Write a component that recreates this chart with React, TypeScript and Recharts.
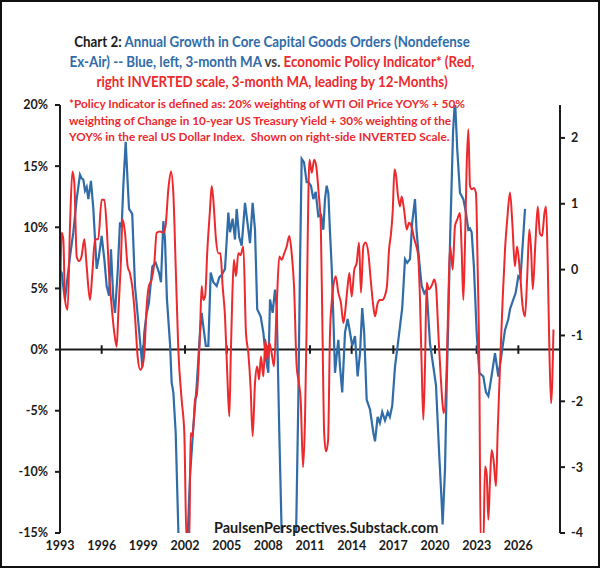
import { LineChart, Line, XAxis, YAxis, ReferenceLine } from "recharts";

// Core capital goods orders, annual growth %, 3-month MA (left axis)
const blueYears = [
  1993.0, 1993.12, 1993.25, 1993.36, 1993.5, 1993.72, 1993.96, 1994.2, 1994.44, 1994.56,
  1994.68, 1994.8, 1994.92, 1995.04, 1995.23, 1995.4, 1995.64, 1995.8, 1996.0, 1996.19,
  1996.36, 1996.53, 1996.67, 1996.84, 1996.96, 1997.15, 1997.32, 1997.44, 1997.56, 1997.73,
  1997.87, 1997.97, 1998.2, 1998.4, 1998.69, 1998.93, 1999.07, 1999.24, 1999.4, 1999.65,
  1999.89, 2000.13, 2000.27, 2000.44, 2000.56, 2000.7, 2000.92, 2001.04, 2001.16, 2001.33,
  2001.52, 2001.75, 2002.0, 2002.2, 2002.36, 2002.6, 2002.84, 2003.08, 2003.2, 2003.32,
  2003.5, 2003.68, 2003.85, 2004.04, 2004.28, 2004.47, 2004.64, 2004.88, 2005.12, 2005.24,
  2005.43, 2005.6, 2005.72, 2005.9, 2006.08, 2006.32, 2006.56, 2006.68, 2006.87, 2007.04,
  2007.2, 2007.45, 2007.64, 2007.83, 2008.0, 2008.12, 2008.31, 2008.48, 2008.6, 2008.79,
  2008.96, 2009.3, 2009.7, 2010.0, 2010.16, 2010.28, 2010.4, 2010.57, 2010.76, 2010.88,
  2011.07, 2011.24, 2011.41, 2011.6, 2011.8, 2011.96, 2012.08, 2012.2, 2012.32, 2012.44,
  2012.56, 2012.68, 2012.8, 2012.92, 2013.04, 2013.16, 2013.32, 2013.52, 2013.71, 2013.88,
  2014.04, 2014.24, 2014.43, 2014.6, 2014.76, 2014.9, 2015.08, 2015.32, 2015.56, 2015.68,
  2015.87, 2016.03, 2016.2, 2016.4, 2016.6, 2016.75, 2016.92, 2017.12, 2017.31, 2017.48,
  2017.64, 2017.84, 2018.0, 2018.2, 2018.36, 2018.56, 2018.68, 2018.85, 2019.04, 2019.23,
  2019.4, 2019.64, 2019.88, 2020.07, 2020.3, 2020.48, 2020.55, 2020.72, 2020.84, 2020.96,
  2021.1, 2021.3, 2021.44, 2021.6, 2021.8, 2022.04, 2022.23, 2022.4, 2022.52, 2022.64,
  2022.8, 2023.0, 2023.19, 2023.48, 2023.67, 2023.84, 2024.0, 2024.32, 2024.56, 2024.8,
  2025.04, 2025.28, 2025.4, 2025.64, 2025.8, 2026.0, 2026.15, 2026.31, 2026.48,
];
const blueValues = [
  6.5, 6.3, 5.0, 4.1, 5.5, 7.6, 9.6, 12.3, 14.3, 14.0,
  13.9, 13.0, 13.3, 12.3, 13.8, 11.5, 6.6, 7.6, 9.3, 7.4,
  5.2, 4.4, 8.2, 4.1, 3.0, 6.3, 10.4, 10.0, 13.4, 17.0,
  13.7, 11.5, 11.1, 5.2, 1.6, -1.4, 1.4, 3.0, 3.8, 6.8,
  7.1, 6.3, 5.5, 10.5, 9.0, 4.1, 0.5, -2.7, -3.5, -6.8,
  -14.8, -19, -18, -15, -10.4, -6.3, -3.0, 1.4, 3.0, 1.9,
  0.3, 0.3, 6.3, 5.5, 5.2, 5.9, 6.1, 6.6, 11.2, 9.6,
  10.7, 9.0, 11.5, 9.2, 8.5, 12.0, 9.8, 8.7, 12.0, 9.8,
  3.3, 2.7, 1.4, -0.8, -1.9, 4.1, 3.0, 4.9, 3.6, -6.8,
  -15, -24, -22, -15, -4.1, 6.8, 15.6, 15.3, 13.7, 13.7,
  13.4, 12.3, 12.9, 10.9, 11.0, 9.8, 12.3, 13.4, 12.8, 9.6,
  6.8, 2.7, -1.9, -0.5, 0.8, -1.4, -3.5, 1.4, 2.5, 1.4,
  0.3, 1.1, -2.2, -0.3, 3.4, 1.4, -4.1, -4.9, -6.8, -7.5,
  -5.5, -6.0, -5.1, -5.8, -5.1, -5.5, -4.6, -1.4, 0.3, 1.9,
  3.4, 7.4, 7.1, 7.4, 10.4, 12.3, 9.6, 7.4, 5.2, 4.6,
  4.9, 0.5, -1.4, -2.9, -8.5, -12.5, -14.3, -9.8, -3.0, 2.5,
  9.6, 17.8, 20.5, 16.4, 12.8, 12.3, 11.2, 9.8, 9.9, 9.6,
  6.8, 1.4, -1.9, -2.2, -3.5, -3.8, -2.7, -0.3, -2.2, -0.3,
  1.6, 2.5, 3.3, 4.1, 4.6, 6.0, 5.8, 8.5, 11.5,
];

// Economic Policy Indicator, 3-month MA, leading by 12 months (right axis)
const redYears = [
  1993.0, 1993.12, 1993.24, 1993.36, 1993.55, 1993.72, 1993.89, 1994.03, 1994.2, 1994.37,
  1994.55, 1994.75, 1994.92, 1995.16, 1995.33, 1995.52, 1995.75, 1996.0, 1996.19, 1996.36,
  1996.53, 1996.72, 1996.91, 1997.08, 1997.2, 1997.37, 1997.51, 1997.68, 1997.87, 1998.03,
  1998.2, 1998.4, 1998.59, 1998.78, 1998.93, 1999.07, 1999.24, 1999.4, 1999.6, 1999.79,
  1999.96, 2000.2, 2000.44, 2000.6, 2000.8, 2000.99, 2001.16, 2001.33, 2001.52, 2001.76,
  2001.95, 2002.12, 2002.31, 2002.4, 2002.55, 2002.72, 2002.85, 2002.96, 2003.08, 2003.2,
  2003.32, 2003.45, 2003.61, 2003.8, 2003.92, 2004.04, 2004.23, 2004.4, 2004.55, 2004.71,
  2004.88, 2005.04, 2005.19, 2005.29, 2005.4, 2005.52, 2005.67, 2005.84, 2006.0, 2006.2,
  2006.39, 2006.56, 2006.73, 2006.87, 2007.04, 2007.2, 2007.33, 2007.47, 2007.64, 2007.79,
  2007.93, 2008.07, 2008.24, 2008.41, 2008.6, 2008.79, 2008.96, 2009.15, 2009.32, 2009.51,
  2009.68, 2009.85, 2010.04, 2010.2, 2010.33, 2010.5, 2010.64, 2010.75, 2010.84, 2010.96,
  2011.13, 2011.3, 2011.45, 2011.62, 2011.78, 2011.9, 2012.02, 2012.15, 2012.3, 2012.44,
  2012.56, 2012.68, 2012.85, 2013.04, 2013.23, 2013.4, 2013.52, 2013.71, 2013.84, 2014.0,
  2014.19, 2014.36, 2014.53, 2014.67, 2014.84, 2015.0, 2015.2, 2015.37, 2015.56, 2015.68,
  2015.87, 2016.03, 2016.2, 2016.37, 2016.54, 2016.69, 2016.84, 2016.96, 2017.08, 2017.2,
  2017.31, 2017.48, 2017.6, 2017.78, 2017.96, 2018.13, 2018.3, 2018.51, 2018.65, 2018.79,
  2018.92, 2019.04, 2019.16, 2019.28, 2019.4, 2019.55, 2019.75, 2019.95, 2020.07, 2020.24,
  2020.41, 2020.64, 2020.84, 2020.96, 2021.08, 2021.18, 2021.27, 2021.44, 2021.6, 2021.8,
  2021.92, 2022.04, 2022.15, 2022.28, 2022.4, 2022.52, 2022.65, 2022.8, 2022.95, 2023.07,
  2023.19, 2023.29, 2023.48, 2023.6, 2023.72, 2023.84, 2023.96, 2024.08, 2024.22, 2024.39,
  2024.51, 2024.68, 2024.87, 2025.04, 2025.2, 2025.4, 2025.58, 2025.75, 2025.91, 2026.12,
  2026.31, 2026.48, 2026.64, 2026.79, 2026.92, 2027.04, 2027.23, 2027.4, 2027.55, 2027.71,
  2027.88, 2028.0, 2028.12, 2028.24, 2028.36, 2028.53,
];
const redValues = [
  -0.76, 0.56, 0.46, -0.46, -0.61, 0.66, 1.49, 1.32, 0.2, 0.13,
  0.2, 0.46, 0.05, -0.46, -0.05, 0.46, 0.46, 1.06, 1.06, 0.66,
  -0.05, -0.56, -0.96, -1.17, -0.66, 0.05, 0.76, 0.56, 0.05, -0.05,
  -0.25, -0.71, -1.32, -1.52, -1.47, -1.27, -0.56, -0.25, -0.15, 0.1,
  0.56, 0.58, 0.56, 0.66, 1.22, 1.49, 1.16, 0.05, -1.22, -1.98,
  -2.48, -4.2, -4.2, -2.48, -2.53, -1.98, -1.9, -1.57, -0.96, -0.25,
  -0.46, -0.4, 0.3, 0.91, 1.27, 1.06, 0.46, 0.25, 0.25, -0.25,
  -0.71, -1.57, -2.23, -1.37, -0.46, 0.15, -0.1, 0.25, 0.22, 0.35,
  -0.96, -1.27, -1.82, -2.53, -1.72, -1.47, -1.67, -1.32, -1.62, -1.06,
  -1.37, -1.11, -1.27, -1.47, -0.56, 0.2, 0.15, 0.25, 0.35, 0.51,
  0.25, -0.25, -1.47, -1.72, -1.98, -3.0, -2.28, -0.96, 0.56, 1.67,
  1.47, 1.67, 1.57, 1.17, 0.66, -0.96, -2.48, -2.76, -2.6, -0.96,
  -0.5, -0.25, -0.1, -0.35, -0.51, -0.81, -0.66, -0.25, -0.05, -0.41,
  0.0, 0.1, 0.41, -0.35, 0.35, 0.41, 0.25, -0.15, -0.56, -0.71,
  -0.51, -0.46, -0.46, -0.41, -0.25, 0.3, 0.56, 0.91, 1.52, 1.42,
  1.17, 0.96, 1.11, 0.9, 0.61, 0.71, 0.66, 0.46, 0.36, 0.2,
  -0.46, -1.47, -2.28, -1.47, -0.2, -0.3, -0.25, -0.15, -0.25, -0.96,
  -1.62, -2.18, -1.47, -0.46, 0.35, 0.2, 0.0, 0.66, 0.76, 0.86,
  0.3, -0.46, 0.3, 1.57, 2.13, 1.27, 1.22, 1.24, 1.16, 0.05,
  -1.47, -4.2, -4.2, -2.99, -3.1, -3.8, -3.2, -2.74, -2.9, -3.29,
  -2.48, -1.47, -0.46, 0.3, 0.76, 1.17, 0.66, 0.05, 0.35, -0.05,
  -0.56, -0.71, -0.1, 0.61, 0.3, -0.3, 0.41, 0.96, 0.55, 0.51,
  0.86, 0.96, 0.05, -1.27, -2.03, -0.91,
];

const yearTicks = [1993, 1996, 1999, 2002, 2005, 2008, 2011, 2014, 2017, 2020, 2023, 2026];
const leftTicks = [-15, -10, -5, 0, 5, 10, 15, 20];
const rightTicks = [-4, -3, -2, -1, 0, 1, 2];

const blueData = blueYears.map((t, i) => ({ t, v: blueValues[i] }));
const redData = redYears.map((t, i) => ({ t, v: redValues[i] }));

const BLUE = "#2f6ca8";
const RED = "#ec2a2e";
const INK = "#1b1b1b";
const FONT = "Lato, 'Noto Sans', sans-serif";

const tickStyle = { fill: INK, fontSize: 12.5, fontWeight: 700, fontFamily: FONT };

export default function App() {
  return (
    <div
      style={{
        position: "absolute",
        left: 0,
        top: 0,
        width: 600,
        height: 568,
        background: "#fff",
        fontFamily: FONT,
      }}
    >
      <LineChart
        width={600}
        height={568}
        margin={{ top: 105, right: 0, bottom: 5, left: 10 }}
      >
        <XAxis
          dataKey="t"
          type="number"
          domain={[1993, 2029]}
          ticks={yearTicks}
          allowDataOverflow
          axisLine={false}
          tickLine={false}
          height={30}
          tick={tickStyle}
        />
        <YAxis
          yAxisId="left"
          width={50}
          domain={[-15, 20]}
          ticks={leftTicks}
          allowDataOverflow
          tickFormatter={(v) => `${v}%`}
          axisLine={{ stroke: INK, strokeWidth: 2 }}
          tickLine={{ stroke: INK, strokeWidth: 2 }}
          tickSize={5}
          tickMargin={7}
          tick={tickStyle}
        />
        <YAxis
          yAxisId="right"
          orientation="right"
          width={40}
          domain={[-4, 2.5]}
          ticks={rightTicks}
          allowDataOverflow
          axisLine={{ stroke: INK, strokeWidth: 2 }}
          tickLine={{ stroke: INK, strokeWidth: 2 }}
          tickSize={5}
          tickMargin={6}
          tick={tickStyle}
        />
        <ReferenceLine yAxisId="left" y={0} stroke={INK} strokeWidth={2} />
        {yearTicks.slice(1).map((t) => (
          <ReferenceLine
            key={t}
            yAxisId="left"
            segment={[
              { x: t, y: -0.35 },
              { x: t, y: 0.35 },
            ]}
            stroke={INK}
            strokeWidth={2}
          />
        ))}
        <Line
          yAxisId="left"
          data={blueData}
          dataKey="v"
          type="linear"
          stroke={BLUE}
          strokeWidth={2.2}
          dot={false}
          isAnimationActive={false}
        />
        <Line
          yAxisId="right"
          data={redData}
          dataKey="v"
          type="monotone"
          stroke={RED}
          strokeWidth={2}
          dot={false}
          isAnimationActive={false}
        />
      </LineChart>

      {/* title, narrowed to the look of the original Calibri text */}
      <div
        style={{
          position: "absolute",
          left: 0,
          top: 31,
          width: 544,
          textAlign: "center",
          fontSize: 15.5,
          fontWeight: 700,
          lineHeight: "20px",
          color: BLUE,
          transform: "scaleX(0.86)",
          transformOrigin: "272px 0",
        }}
      >
        <span style={{ color: INK }}>Chart 2: </span>
        Annual Growth in Core Capital Goods Orders (Nondefense
        <br />
        Ex-Air) -- Blue, left, 3-month MA <span style={{ color: "#444" }}>vs. </span>
        <span style={{ color: RED }}>Economic Policy Indicator* (Red,</span>
        <br />
        <span style={{ color: RED }}>right INVERTED scale, 3-month MA, leading by 12-Months)</span>
      </div>

      <div
        style={{
          position: "absolute",
          left: 69,
          top: 96,
          fontSize: 11.8,
          fontWeight: 700,
          lineHeight: "16.5px",
          color: RED,
          whiteSpace: "pre",
        }}
      >
        {"*Policy Indicator is defined as: 20% weighting of WTI Oil Price YOY% + 50%\n" +
          "weighting of Change in 10-year US Treasury Yield + 30% weighting of the\n" +
          "YOY% in the real US Dollar Index.  Shown on right-side INVERTED Scale."}
      </div>

      <div
        style={{
          position: "absolute",
          left: 214,
          top: 519,
          fontSize: 14.5,
          fontWeight: 700,
          color: INK,
        }}
      >
        PaulsenPerspectives.Substack.com
      </div>

      <div
        style={{
          position: "absolute",
          inset: 0,
          border: "2px solid #111",
          pointerEvents: "none",
        }}
      />
    </div>
  );
}
